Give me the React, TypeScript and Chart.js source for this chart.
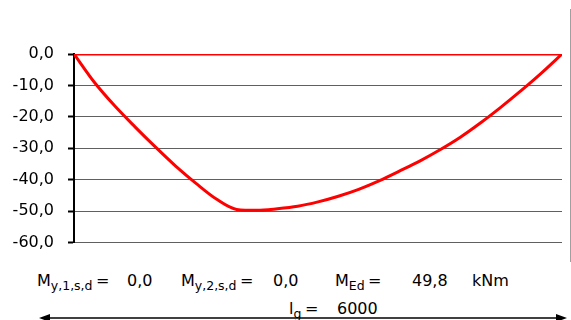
import React, { useEffect, useRef } from "react";
import { Chart, registerables } from "chart.js";

Chart.register(...registerables);

// Positions along the beam (mm) and bending moment (kNm)
const positions = [0, 250, 500, 750, 1000, 1250, 1500, 1750, 2000, 2250, 2500, 2750, 3000, 3250, 3500, 3750, 4000, 4250, 4500, 4750, 5000, 5250, 5500, 5750, 6000];
const moments = [0, -9.0, -16.5, -23.2, -29.6, -35.7, -41.2, -46.2, -49.5, -49.8, -49.3, -48.5, -47.1, -45.3, -43.1, -40.4, -37.3, -34.1, -30.5, -26.5, -21.9, -16.9, -11.6, -6.0, 0];
const baselineX = [0, 6000];
const baselineY = [0, 0];
const yMin = -60;
const yMax = 0;
const yStep = 10;

const FONT = '"DejaVu Sans", sans-serif';

const T: React.FC<{ x: number; top: number; children: React.ReactNode }> = ({ x, top, children }) => (
  <span
    style={{
      position: "absolute",
      left: x,
      top,
      fontFamily: FONT,
      fontSize: 16,
      lineHeight: "16px",
      whiteSpace: "nowrap",
      color: "#000",
    }}
  >
    {children}
  </span>
);

const Sub: React.FC<{ children: React.ReactNode }> = ({ children }) => (
  <span style={{ fontSize: 12.5, position: "relative", top: 4 }}>{children}</span>
);

export default function App() {
  const ref = useRef<HTMLCanvasElement | null>(null);

  useEffect(() => {
    if (!ref.current) return;
    const chart = new Chart(ref.current, {
      type: "line",
      data: {
        datasets: [
          {
            data: baselineX.map((x, i) => ({ x, y: baselineY[i] })),
            borderColor: "#ff0000",
            borderWidth: 3,
            pointRadius: 0,
            fill: false,
          },
          {
            data: positions.map((x, i) => ({ x, y: moments[i] })),
            borderColor: "#ff0000",
            borderWidth: 3,
            pointRadius: 0,
            fill: false,
            cubicInterpolationMode: "monotone",
          },
        ],
      },
      options: {
        animation: false,
        responsive: false,
        events: [],
        layout: { padding: { top: 54, right: 9, bottom: 11, left: 0 } },
        plugins: { legend: { display: false }, tooltip: { enabled: false } },
        scales: {
          x: { type: "linear", min: 0, max: 6000, display: false },
          y: {
            min: yMin,
            max: yMax,
            afterFit: (s: any) => {
              s.width = 74;
            },
            ticks: {
              stepSize: yStep,
              padding: 14,
              color: "#000",
              font: { family: FONT, size: 16 },
              callback: (v: any) => Number(v).toFixed(1).replace(".", ","),
            },
            grid: {
              color: "#606060",
              lineWidth: 1,
              tickLength: 6,
              tickColor: "#000",
              tickWidth: 2,
            },
            border: { display: true, color: "#000", width: 2 },
          },
        },
      },
    });
    return () => chart.destroy();
  }, []);

  return (
    <div style={{ position: "fixed", left: 0, top: 0, width: 571, height: 320, background: "#fff", overflow: "hidden" }}>
      <canvas ref={ref} width={571} height={266} style={{ position: "absolute", left: 0, top: 0 }} />
      <div style={{ position: "absolute", left: 570, top: 9, width: 1, height: 253, background: "#a0a0a0" }} />
      <T x={37} top={273}>
        M<Sub>y,1,s,d</Sub>
      </T>
      <T x={96} top={273}>=</T>
      <T x={127} top={273}>0,0</T>
      <T x={181} top={273}>
        M<Sub>y,2,s,d</Sub>
      </T>
      <T x={240} top={273}>=</T>
      <T x={273} top={273}>0,0</T>
      <T x={335} top={273}>
        M<Sub>Ed</Sub>
      </T>
      <T x={368} top={273}>=</T>
      <T x={412} top={273}>49,8</T>
      <T x={472} top={273}>kNm</T>
      <T x={289} top={300.5}>
        l<Sub>g</Sub>
      </T>
      <T x={305} top={300.5}>=</T>
      <T x={337} top={300.5}>6000</T>
      <svg width={571} height={320} style={{ position: "absolute", left: 0, top: 0 }}>
        <line x1={46} y1={318} x2={560} y2={318} stroke="#000" strokeWidth={1.5} />
        <polygon points="39,318 50,314 50,322" fill="#000" />
        <polygon points="567,318 556,314 556,322" fill="#000" />
      </svg>
    </div>
  );
}
